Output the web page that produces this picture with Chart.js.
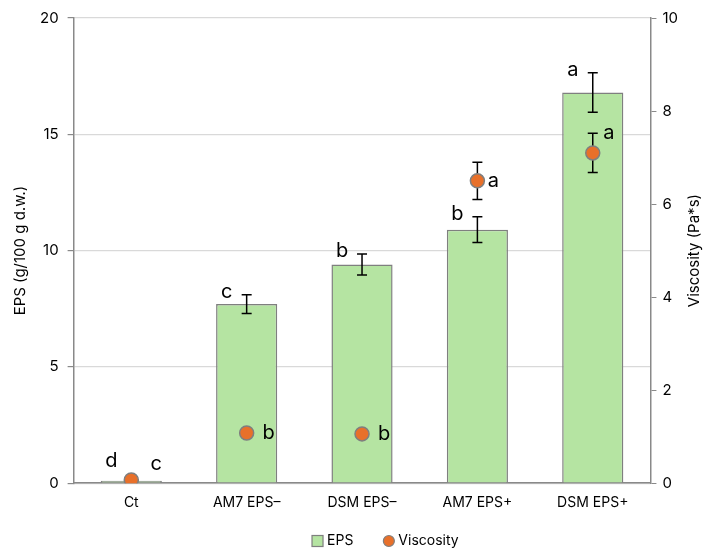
<!DOCTYPE html>
<html>
<head>
<meta charset="utf-8">
<script src="https://cdn.jsdelivr.net/npm/chart.js@4.4.1/dist/chart.umd.min.js"></script>
<style>
  html, body { margin: 0; padding: 0; background: #fff; }
  #wrap { width: 716px; height: 558px; }
</style>
</head>
<body>
<div id="wrap"><canvas id="eps"></canvas></div>
<script>
var categories = ['Ct', 'AM7 EPS\u2013', 'DSM EPS\u2013', 'AM7 EPS+', 'DSM EPS+'];
var epsValues = [0.1, 7.7, 9.4, 10.9, 16.8];
var epsErrors = [0, 0.4, 0.45, 0.55, 0.85];
var epsLetters = ['d', 'c', 'b', 'b', 'a'];
var viscValues = [0.07, 1.08, 1.06, 6.5, 7.1];
var viscErrors = [0, 0, 0, 0.4, 0.42];
var viscLetters = ['c', 'b', 'b', 'a', 'a'];
var epsTicks = [0, 5, 10, 15, 20];
var viscTicks = [0, 2, 4, 6, 8, 10];

var font = 'Inter, "Liberation Sans", sans-serif';
var axisGrey = '#898989';
var green = '#b5e4a2';
var orange = '#e8702a';
var rightTitle = 'Viscosity (Pa*s)';

// error bars + significance letters
var extras = {
  id: 'extras',
  afterDatasetDraw: function(chart, args) {
    var ctx = chart.ctx;
    var x = chart.scales.x;
    if (args.index === 0) {
      var y = chart.scales.y;
      drawErrors(ctx, x, y, epsValues, epsErrors, 5);
      ctx.save();
      ctx.fillStyle = '#000';
      ctx.font = '20px ' + font;
      ctx.textAlign = 'center';
      ctx.textBaseline = 'middle';
      epsLetters.forEach(function(l, i) {
        var cx = x.getPixelForValue(i) - 20;
        var top = y.getPixelForValue(epsValues[i] + epsErrors[i]);
        var cy = epsErrors[i] > 0 ? top - 3 : top - 20;
        ctx.fillText(l, cx, cy);
      });
      ctx.restore();
    }
    if (args.index === 1) {
      var y1 = chart.scales.y1;
      ctx.save();
      ctx.fillStyle = '#000';
      ctx.font = '20px ' + font;
      ctx.textAlign = 'center';
      ctx.textBaseline = 'middle';
      viscLetters.forEach(function(l, i) {
        var cx = x.getPixelForValue(i);
        var cy = y1.getPixelForValue(viscValues[i]);
        if (i === 0) { cx += 25; cy -= 16; }
        else if (viscErrors[i] > 0 && i === 4) { cx += 16; cy -= 20; }
        else if (viscErrors[i] > 0) { cx += 16; }
        else { cx += 22; }
        ctx.fillText(l, cx, cy);
      });
      ctx.restore();
    }
  },
  beforeDatasetDraw: function(chart, args) {
    if (args.index === 1) {
      drawErrors(chart.ctx, chart.scales.x, chart.scales.y1, viscValues, viscErrors, 5);
    }
  },
  afterDraw: function(chart) {
    var ctx = chart.ctx;
    var area = chart.chartArea;
    // right axis title, reading bottom to top like the left one
    var s = chart.scales.y1;
    ctx.save();
    ctx.translate(s.right - 16, (area.top + area.bottom) / 2);
    ctx.rotate(-Math.PI / 2);
    ctx.fillStyle = '#000';
    ctx.font = '15px ' + font;
    ctx.textAlign = 'center';
    ctx.textBaseline = 'middle';
    ctx.fillText(rightTitle, 0, 0);
    ctx.restore();

    // legend
    ctx.save();
    ctx.font = '14px ' + font;
    ctx.textBaseline = 'middle';
    ctx.fillStyle = '#000';
    var ly = chart.height - 17;
    var lx = (area.left + area.right) / 2 - 50;
    ctx.fillStyle = green;
    ctx.strokeStyle = '#7f7f7f';
    ctx.lineWidth = 1.2;
    ctx.fillRect(lx, ly - 5.5, 11, 11);
    ctx.strokeRect(lx, ly - 5.5, 11, 11);
    ctx.fillStyle = '#000';
    ctx.fillText('EPS', lx + 15, ly);
    lx += 15 + ctx.measureText('EPS').width + 30;
    ctx.beginPath();
    ctx.arc(lx + 5.5, ly, 5.5, 0, Math.PI * 2);
    ctx.fillStyle = orange;
    ctx.fill();
    ctx.stroke();
    ctx.fillStyle = '#000';
    ctx.fillText('Viscosity', lx + 15, ly);
    ctx.restore();
  }
};

function drawErrors(ctx, x, y, vals, errs, cap) {
  ctx.save();
  ctx.strokeStyle = '#000';
  ctx.lineWidth = 1.5;
  vals.forEach(function(v, i) {
    if (!errs[i]) return;
    var px = x.getPixelForValue(i);
    var hi = y.getPixelForValue(v + errs[i]);
    var lo = y.getPixelForValue(v - errs[i]);
    ctx.beginPath();
    ctx.moveTo(px, hi); ctx.lineTo(px, lo);
    ctx.moveTo(px - cap, hi); ctx.lineTo(px + cap, hi);
    ctx.moveTo(px - cap, lo); ctx.lineTo(px + cap, lo);
    ctx.stroke();
  });
  ctx.restore();
}

var ctx = document.getElementById('eps');
var chart = new Chart(ctx, {
  type: 'bar',
  data: {
    labels: categories,
    datasets: [
      {
        label: 'EPS',
        data: epsValues,
        backgroundColor: green,
        borderColor: '#7f7f7f',
        borderWidth: 1.5,
        barPercentage: 0.53,
        categoryPercentage: 1,
        yAxisID: 'y',
        order: 1
      },
      {
        label: 'Viscosity',
        type: 'line',
        data: viscValues,
        showLine: false,
        pointStyle: 'circle',
        pointRadius: 7,
        pointBackgroundColor: orange,
        pointBorderColor: '#7f7f7f',
        pointBorderWidth: 1.5,
        backgroundColor: orange,
        borderColor: '#7f7f7f',
        yAxisID: 'y1',
        order: 0
      }
    ]
  },
  options: {
    responsive: true,
    maintainAspectRatio: false,
    animation: false,
    layout: { padding: { top: 13, right: 6, left: 9, bottom: 36 } },
    plugins: {
      tooltip: { enabled: false },
      legend: { display: false }
    },
    scales: {
      x: {
        grid: { display: false, drawTicks: false },
        border: { display: true, color: axisGrey, width: 1.5 },
        ticks: { color: '#000', font: { family: font, size: 14 }, padding: 11 }
      },
      y: {
        position: 'left',
        min: 0,
        max: 20,
        afterBuildTicks: function(s) { s.ticks = epsTicks.map(function(v) { return { value: v }; }); },
        grid: { color: '#d9d9d9', lineWidth: 1.2, tickColor: axisGrey, tickLength: 6 },
        border: { display: true, color: axisGrey, width: 1.5 },
        ticks: { color: '#000', font: { family: font, size: 15 }, padding: 9 },
        title: { display: true, text: 'EPS (g/100 g d.w.)', color: '#000', font: { family: font, size: 15 }, padding: 2 }
      },
      y1: {
        position: 'right',
        min: 0,
        max: 10,
        afterBuildTicks: function(s) { s.ticks = viscTicks.map(function(v) { return { value: v }; }); },
        grid: { drawOnChartArea: false, tickColor: axisGrey, tickLength: 6 },
        border: { display: true, color: axisGrey, width: 1.5 },
        ticks: { color: '#000', font: { family: font, size: 15 }, padding: 6 },
        title: { display: true, text: rightTitle, color: 'rgba(0,0,0,0)', font: { family: font, size: 15 }, padding: 4 }
      }
    }
  },
  plugins: [extras]
});
</script>
</body>
</html>
